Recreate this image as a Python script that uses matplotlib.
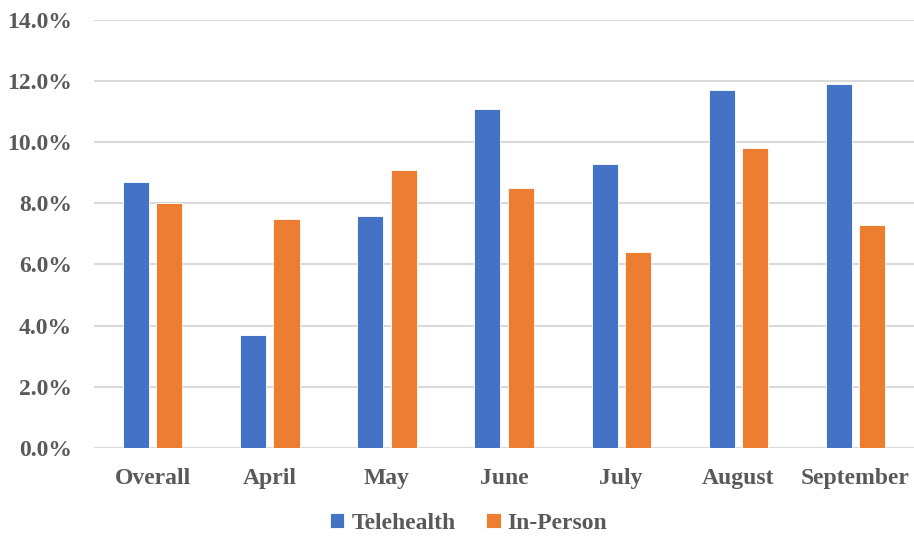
import matplotlib
matplotlib.use("Agg")
import matplotlib.pyplot as plt
import numpy as np
from matplotlib.ticker import FuncFormatter, MultipleLocator

categories = ["Overall", "April", "May", "June", "July", "August", "September"]
telehealth = [8.7, 3.7, 7.6, 11.1, 9.3, 11.7, 11.9]
in_person = [8.0, 7.5, 9.1, 8.5, 6.4, 9.8, 7.3]
series_names = ["Telehealth", "In-Person"]

BLUE = "#4472C4"
ORANGE = "#ED7D31"
TEXT = "#595959"
GRID = "#D9D9D9"

plt.rcParams["font.family"] = ["Liberation Serif", "DejaVu Serif"]
plt.rcParams["font.weight"] = "bold"

fig = plt.figure(figsize=(9.14, 5.37), dpi=100)
ax = fig.add_axes([0.103, 0.166, 0.897, 0.797])

x = np.arange(len(categories))
w = 0.223
off = 0.142
ax.bar(x - off, telehealth, w, color=BLUE, label=series_names[0], zorder=3,
       edgecolor="white", linewidth=0.6)
ax.bar(x + off, in_person, w, color=ORANGE, label=series_names[1], zorder=3,
       edgecolor="white", linewidth=0.6)

ax.set_xlim(-0.5, len(categories) - 0.5)
ax.set_ylim(0, 14)
ax.yaxis.set_major_locator(MultipleLocator(2))
ax.yaxis.set_major_formatter(FuncFormatter(lambda v, p: f"{v:.1f}%"))
ax.grid(axis="y", color=GRID, linewidth=1.5, zorder=0)
ax.set_axisbelow(True)
for s in ax.spines.values():
    s.set_visible(False)
ax.tick_params(axis="both", length=0, colors=TEXT, labelsize=17)
ax.tick_params(axis="x", pad=14.5)
ax.tick_params(axis="y", pad=16)
ax.set_xticks(x)
ax.set_xticklabels(categories, fontweight="bold")
for lab in ax.get_yticklabels():
    lab.set_fontweight("bold")

leg = fig.legend(loc="center", bbox_to_anchor=(0.513, 0.025), ncol=2, frameon=False,
                 handlelength=0.6, handleheight=0.6, handletextpad=0.3,
                 borderpad=0.1, columnspacing=1.3,
                 prop={"family": ["Liberation Serif"], "weight": "bold", "size": 17})
for t in leg.get_texts():
    t.set_color(TEXT)

fig.savefig("out.png", dpi=100)
